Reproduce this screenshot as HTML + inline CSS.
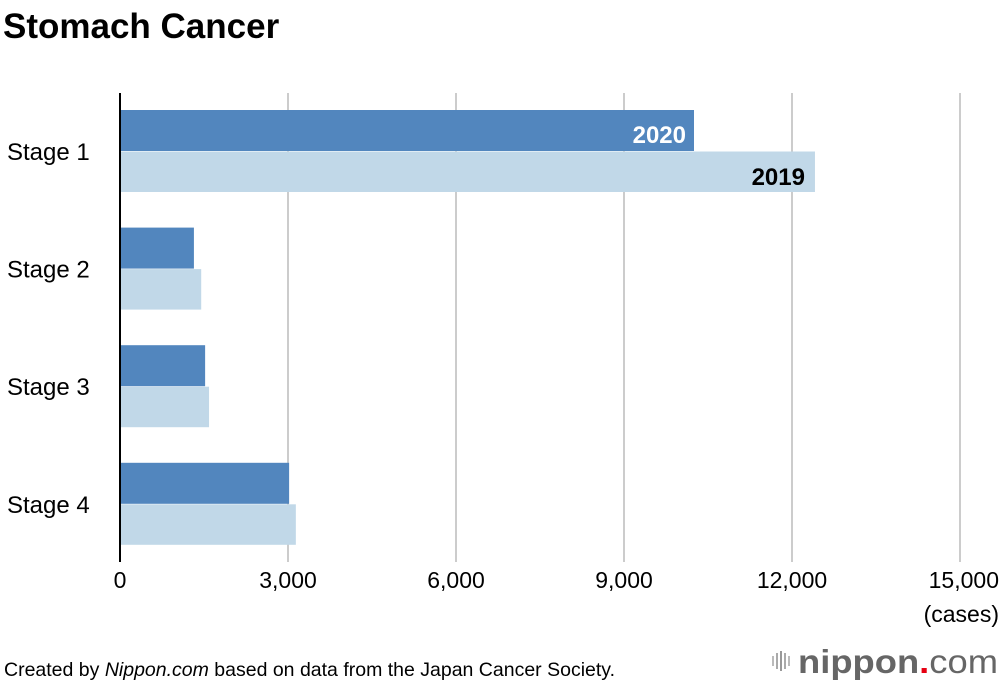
<!DOCTYPE html>
<html><head><meta charset="utf-8"><style>
body{margin:0;background:#fff;width:1000px;height:686px;overflow:hidden;font-family:"Liberation Sans",sans-serif}
</style></head><body>
<svg width="1000" height="686" xmlns="http://www.w3.org/2000/svg">
<text x="3" y="38" font-size="35" font-weight="bold" fill="#000">Stomach Cancer</text>
<g id="grid"></g>
<g id="bars"></g>
<g id="labels"></g>
<line x1="120" y1="93" x2="120" y2="562" stroke="#000" stroke-width="2"/>
<text x="999" y="622" font-size="23" text-anchor="end">(cases)</text>
<text x="4" y="676" font-size="19.5">Created by <tspan font-style="italic">Nippon.com</tspan> based on data from the Japan Cancer Society.</text>
<g>
<rect x="772" y="656" width="2" height="10" fill="#bbb"/><rect x="776" y="653" width="2" height="16" fill="#aaa"/><rect x="780" y="651" width="2" height="20" fill="#999"/><rect x="784" y="653" width="2" height="16" fill="#aaa"/><rect x="788" y="656" width="2" height="10" fill="#bbb"/>
<text x="798" y="673" font-size="33" font-weight="bold" fill="#666" textLength="200" lengthAdjust="spacingAndGlyphs">nippon<tspan fill="#e60012">.</tspan><tspan font-weight="normal">com</tspan></text>
</g>
</svg>
<script>
const categories=["Stage 1","Stage 2","Stage 3","Stage 4"];
const values2020=[10250,1320,1520,3020];
const values2019=[12410,1450,1590,3140];
const ticks=[0,3000,6000,9000,12000,15000];
const tickLabels=["0","3,000","6,000","9,000","12,000","15,000"];
const NS="http://www.w3.org/2000/svg";
const x=v=>120+v*0.056;
const bandY=i=>110+i*117.6;
function mk(t,a,p){const e=document.createElementNS(NS,t);for(const k in a)e.setAttribute(k,a[k]);p.appendChild(e);return e;}
const grid=document.getElementById('grid'),bars=document.getElementById('bars'),labels=document.getElementById('labels');
ticks.forEach((t,i)=>{
 if(i>0){const l=mk('line',{x1:x(t),x2:x(t),y1:93,y2:562,stroke:'#ccc','stroke-width':2},grid);
 
 }
 const tx=mk('text',{x:x(t),y:588,'font-size':23,'text-anchor':i===5?'end':'middle'},labels);
 if(i===5)tx.setAttribute('x',999);
 tx.textContent=tickLabels[i];
 
 
});
categories.forEach((c,i)=>{
 const y=bandY(i);
 const b1=mk('rect',{x:120,y:y,width:x(values2020[i])-120,height:41,fill:'#5286be'},bars);
 
 
 const b2=mk('rect',{x:120,y:y+41.5,width:x(values2019[i])-120,height:40.5,fill:'#c1d8e8'},bars);
 
 
 const t=mk('text',{x:7,y:y+50,'font-size':24},labels);t.textContent=c;
 
 
 if(i===0){
  const a=mk('text',{x:x(values2020[i])-8,y:y+33,'font-size':24,'font-weight':'bold',fill:'#fff','text-anchor':'end'},labels);a.textContent='2020';
  
  
  const b=mk('text',{x:x(values2019[i])-10,y:y+75,'font-size':24,'font-weight':'bold',fill:'#000','text-anchor':'end'},labels);b.textContent='2019';
  
  
 }
});
</script>
</body></html>
